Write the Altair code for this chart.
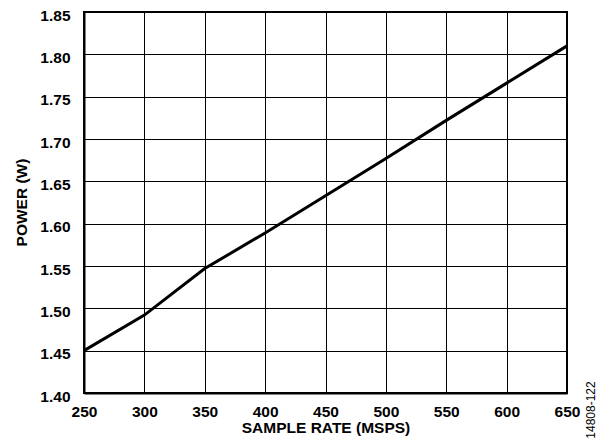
import altair as alt
import pandas as pd

sample_rate = [250, 300, 350, 400, 450, 500, 550, 600, 650]
power = [1.450, 1.492, 1.547, 1.589, 1.633, 1.677, 1.722, 1.766, 1.810]

x_ticks = [250, 300, 350, 400, 450, 500, 550, 600, 650]
y_ticks = [1.40, 1.45, 1.50, 1.55, 1.60, 1.65, 1.70, 1.75, 1.80, 1.85]

df = pd.DataFrame({"rate": sample_rate, "power": power})
FONT = "Liberation Sans"

line = alt.Chart(df).mark_line(color="black", strokeWidth=3).encode(
    x=alt.X("rate:Q",
            scale=alt.Scale(domain=[250, 650], nice=False),
            axis=alt.Axis(values=x_ticks, title="SAMPLE RATE (MSPS)", format="d",
                          ticks=False, labelPadding=11, labelFontSize=15.5,
                          labelFont=FONT, labelFontWeight="bold", labelColor="black",
                          titleFont=FONT, titleFontSize=15.5, titleFontWeight="bold",
                          titleColor="black", titleY=39, titleBaseline="alphabetic",
                          grid=True, gridColor="black", gridWidth=1, gridOpacity=1,
                          domainColor="black", domainWidth=2, labelFlush=False)),
    y=alt.Y("power:Q",
            scale=alt.Scale(domain=[1.40, 1.85], nice=False, zero=False),
            axis=alt.Axis(values=y_ticks, title="POWER (W)", format=".2f",
                          ticks=False, labelPadding=14, labelFontSize=15.5,
                          labelBaseline="top", labelOffset=-4,
                          labelFont=FONT, labelFontWeight="bold", labelColor="black",
                          titleFont=FONT, titleFontSize=15.5, titleFontWeight="bold",
                          titleColor="black", titleAngle=270, titleX=-58, titleY=190,
                          titleAlign="center", titleBaseline="alphabetic",
                          grid=True, gridColor="black", gridWidth=1, gridOpacity=1,
                          domainColor="black", domainWidth=2, labelFlush=False)),
)

note = alt.Chart(pd.DataFrame({"t": ["14808-122"]})).mark_text(
    angle=270, font=FONT, fontSize=12, color="black", align="center", baseline="middle"
).encode(x=alt.value(507), y=alt.value(398), text="t:N")

chart = (line + note).properties(
    width=483, height=381,
    autosize=alt.AutoSizeParams(type="none"),
    padding={"left": 76, "top": 4, "right": 38, "bottom": 47},
).configure_view(stroke="black", strokeWidth=2)

chart.save("out.html", embed_options={"renderer": "svg", "actions": False})
